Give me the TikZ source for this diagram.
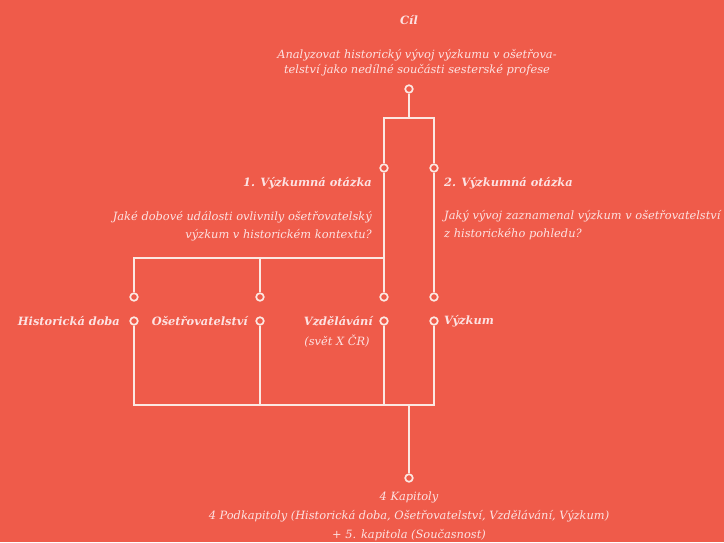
\documentclass[tikz,border=0pt]{standalone}
\usepackage{fontspec}
\setmainfont{DejaVu Serif}
\definecolor{bg}{RGB}{239,91,74}
\definecolor{ln}{RGB}{252,232,226}
\definecolor{tx}{RGB}{253,226,226}
\begin{document}
\begin{tikzpicture}[x=1pt,y=-1pt,
  dot/.style={circle,draw=ln,fill=bg,line width=1.7pt,minimum size=7.6pt,inner sep=0pt},
  wire/.style={draw=ln,line width=2pt},
  hd/.style={text=tx,font=\fontsize{11.4}{13}\selectfont\bfseries\itshape,inner sep=0pt},
  bd/.style={text=tx,font=\fontsize{11.4}{18}\selectfont\itshape,inner sep=0pt},
]
\fill[bg] (0,0) rectangle (724,542);
\useasboundingbox (0,0) rectangle (724,542);
% dots
\node[dot] (t) at (409,89) {};
\node[dot] (q1) at (384,168) {};
\node[dot] (q2) at (434,168) {};
\node[dot] (h1) at (134,297) {};
\node[dot] (o1) at (260,297) {};
\node[dot] (v1) at (384,297) {};
\node[dot] (z1) at (434,297) {};
\node[dot] (h2) at (134,321) {};
\node[dot] (o2) at (260,321) {};
\node[dot] (v2) at (384,321) {};
\node[dot] (z2) at (434,321) {};
\node[dot] (b) at (409,478) {};
% junction coordinates
\coordinate (j1) at (409,118);
\coordinate (tl) at (384,118);
\coordinate (tr) at (434,118);
\coordinate (hl) at (134,258);
\coordinate (ol) at (260,258);
\coordinate (ml) at (384,258);
\coordinate (hb) at (134,404.5);
\coordinate (ob) at (260,404.5);
\coordinate (vb) at (384,404.5);
\coordinate (mb) at (409,404.5);
\coordinate (zb) at (434,404.5);
% wires
\draw[wire] (t) -- (j1);
\draw[wire] (q1) -- (tl) -- (tr) -- (q2);
\draw[wire] (q1) -- (v1);
\draw[wire] (h1) -- (hl) -- (ml);
\draw[wire] (o1) -- (ol);
\draw[wire] (q2) -- (z1);
\draw[wire] (h2) -- (hb) -- (zb) -- (z2);
\draw[wire] (o2) -- (ob);
\draw[wire] (v2) -- (vb);
\draw[wire] (mb) -- (b);
% texts
\node[hd] (cil) at (409,20) {Cíl};
\node[bd,align=center,font=\fontsize{11.4}{15}\selectfont\itshape] (goal) at (417,62.5) {Analyzovat historický vývoj výzkumu v ošetřova-\\telství jako nedílné součásti sesterské profese};
\node[hd,anchor=east] (rq1) at (372,183) {1. Výzkumná otázka};
\node[hd,anchor=west] (rq2) at (444,183) {2. Výzkumná otázka};
\node[bd,align=right,anchor=east] (tq1) at (372,226) {Jaké dobové události ovlivnily ošetřovatelský\\výzkum v historickém kontextu?};
\node[bd,align=left,anchor=west] (tq2) at (444,225.5) {Jaký vývoj zaznamenal výzkum v ošetřovatelství\\z historického pohledu?};
\node[hd,anchor=east] (lh) at (120,321) {Historická doba};
\node[hd,anchor=east] (lo) at (248,321) {Ošetřovatelství};
\node[hd,anchor=east] (lv) at (373,321) {Vzdělávání};
\node[bd,anchor=center] (lv2) at (337,341) {(svět X ČR)};
\node[hd,anchor=west] (lz) at (444,321) {Výzkum};
\node[bd,align=center,font=\fontsize{11.4}{19}\selectfont\itshape] (out) at (409,516) {4 Kapitoly\\4 Podkapitoly (Historická doba, Ošetřovatelství, Vzdělávání, Výzkum)\\+ 5. kapitola (Současnost)};
\end{tikzpicture}
\end{document}
